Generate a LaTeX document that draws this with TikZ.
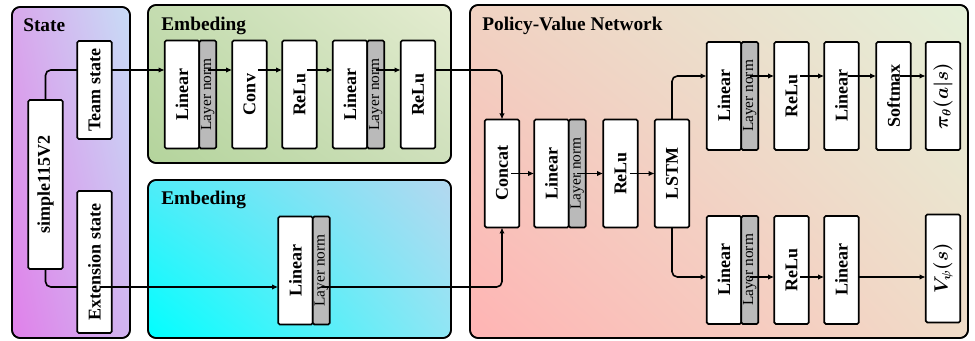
\documentclass[tikz,border=0pt]{standalone}
\usepackage{amsmath, amssymb}
\usepackage{graphicx}
\usepackage{fontspec}
\setmainfont{Liberation Serif}
\usepackage{tikz}
\usetikzlibrary{arrows.meta, positioning, calc, shadings}

\definecolor{stUL}{HTML}{D8A8EC}
\definecolor{stUR}{HTML}{C8DCF6}
\definecolor{stLL}{HTML}{E080EA}
\definecolor{stLR}{HTML}{D0B4F0}
\definecolor{emUL}{HTML}{C4DCB0}
\definecolor{emUR}{HTML}{E4ECD0}
\definecolor{emLL}{HTML}{B4D49C}
\definecolor{emLR}{HTML}{CFE0BC}
\definecolor{ebUL}{HTML}{50ECF8}
\definecolor{ebUR}{HTML}{B4D8F0}
\definecolor{ebLL}{HTML}{00FFFF}
\definecolor{ebLR}{HTML}{90E6F4}
\definecolor{pvUL}{HTML}{F0D2C2}
\definecolor{pvUR}{HTML}{E4F0D8}
\definecolor{pvLL}{HTML}{FFB4B4}
\definecolor{pvLR}{HTML}{F0DCC8}

\newcommand{\rot}[1]{\rotatebox{90}{#1}}

\tikzset{
  panel/.style={draw=black, line width=1.2pt, rounded corners=6pt},
  ptitle/.style={anchor=base west, inner sep=0pt, font=\bfseries\fontsize{14.5}{16}\selectfont},
  blk/.style={draw, line width=1.3pt, fill=white, rounded corners=1.2pt, minimum width=26pt,
    minimum height=81pt, inner sep=0pt, outer sep=0pt, font=\bfseries\fontsize{13.5}{15}\selectfont},
  lnorm/.style={blk, fill=black!27, minimum width=12.75pt, font=\fontsize{11.5}{13}\selectfont},
  line/.style={line width=1.2pt},
  arr/.style={line width=1.2pt, -{Latex[length=4.5pt,width=4pt]}}
}

\begin{document}
\begin{tikzpicture}[x=0.75pt, y=-0.75pt]
\useasboundingbox (0,0) rectangle (975,341);

% panels
\shade[panel, upper left=stUL, upper right=stUR, lower left=stLL, lower right=stLR] (12,7) rectangle (130,338);
\draw[panel] (12,7) rectangle (130,338);
\shade[panel, upper left=emUL, upper right=emUR, lower left=emLL, lower right=emLR] (148,5) rectangle (451,163);
\draw[panel] (148,5) rectangle (451,163);
\shade[panel, upper left=ebUL, upper right=ebUR, lower left=ebLL, lower right=ebLR] (148,180) rectangle (451,338);
\draw[panel] (148,180) rectangle (451,338);
\shade[panel, upper left=pvUL, upper right=pvUR, lower left=pvLL, lower right=pvLR] (470,5) rectangle (968,338);
\draw[panel] (470,5) rectangle (968,338);

\node[ptitle] (tstate) at (23,32) {State};
\node[ptitle] (tembA) at (161,31) {Embeding};
\node[ptitle] (tembB) at (161,205) {Embeding};
\node[ptitle] (tpv) at (482,31) {Policy-Value Network};

% arrow rows
\coordinate (rowT) at (0,70);
\coordinate (rowB) at (0,287);
\coordinate (rowU) at (0,76);
\coordinate (rowL) at (0,277);

% state
\node[blk, minimum height=126.75pt] (simp) at (45.5,184.5) {\rot{simple115V2}};
\node[blk, minimum height=73.5pt] (team) at (94.5,90) {\rot{Team state}};
\node[blk, minimum height=106.5pt] (ext) at (94.5,262) {\rot{Extension state}};

% embeding (top)
\node[blk] (lin1) at (182,94.5) {\rot{Linear}};
\node[lnorm, right=0pt of lin1] (ln1) {\rot{Layer norm}};
\node[blk] (conv) at (249.5,94.5) {\rot{Conv}};
\node[blk] (relu1) at (299.5,94.5) {\rot{ReLu}};
\node[blk] (lin2) at (350,94.5) {\rot{Linear}};
\node[lnorm, right=0pt of lin2] (ln2) {\rot{Layer norm}};
\node[blk] (relu2) at (418,94.5) {\rot{ReLu}};

% embeding (bottom)
\node[blk] (lin3) at (295.5,270.5) {\rot{Linear}};
\node[lnorm, right=0pt of lin3] (ln3) {\rot{Layer norm}};

% policy-value network
\node[blk] (concat) at (502,173.5) {\rot{Concat}};
\node[blk] (lin4) at (551.5,173.5) {\rot{Linear}};
\node[lnorm, right=0pt of lin4] (ln4) {\rot{Layer norm}};
\node[blk] (relu3) at (620.5,173.5) {\rot{ReLu}};
\node[blk] (lstm) at (672,173.5) {\rot{LSTM}};

\node[blk] (linU) at (724,96) {\rot{Linear}};
\node[lnorm, right=0pt of linU] (lnU) {\rot{Layer norm}};
\node[blk] (relu4) at (791.5,96) {\rot{ReLu}};
\node[blk] (linU2) at (841.5,96) {\rot{Linear}};
\node[blk] (soft) at (893.5,96) {\rot{Softmax}};
\node[blk] (pi) at (943,96) {\rot{$\boldsymbol{\pi_\theta(a|s)}$}};

\node[blk] (linL) at (724,270) {\rot{Linear}};
\node[lnorm, right=0pt of linL] (lnL) {\rot{Layer norm}};
\node[blk] (relu5) at (791.5,270) {\rot{ReLu}};
\node[blk] (linL2) at (841.5,270) {\rot{Linear}};
\node[blk] (val) at (943,268.5) {\rot{$\boldsymbol{V_\psi(s)}$}};

% connectors
\draw[line, rounded corners=4pt] (simp.north) |- (team.west |- rowT);
\draw[line, rounded corners=4pt] (simp.south) |- (ext.west |- rowB);
\draw[arr] (team.east |- rowT) -- (lin1.west |- rowT);
\draw[arr] ($(ext.center |- rowB)+(5,0)$) -- (lin3.west |- rowB);

\draw[arr] (ln1.center |- rowT) -- (conv.west |- rowT);
\draw[arr] ($(conv.east |- rowT)+(-9,0)$) -- (relu1.west |- rowT);
\draw[arr] ($(relu1.east |- rowT)+(-10,0)$) -- (lin2.west |- rowT);
\draw[arr] (ln2.center |- rowT) -- (relu2.west |- rowT);
\draw[arr, rounded corners=4pt] (relu2.east |- rowT) -| (concat.north);
\draw[arr, rounded corners=4pt] (ln3.center |- rowB) -| (concat.south);

\draw[arr] ($(concat.east)+(-8,0)$) -- (lin4.west);
\draw[arr] (ln4.center) -- (relu3.west);
\draw[arr] ($(relu3.east)+(-8,0)$) -- (lstm.west);
\draw[arr, rounded corners=4pt] (lstm.north) |- (linU.west |- rowU);
\draw[arr, rounded corners=4pt] (lstm.south) |- (linL.west |- rowL);

\draw[arr] (lnU.center |- rowU) -- (relu4.west |- rowU);
\draw[arr] ($(relu4.east |- rowU)+(-9,0)$) -- (linU2.west |- rowU);
\draw[arr] ($(linU2.east |- rowU)+(-11,0)$) -- (soft.west |- rowU);
\draw[arr] ($(soft.east |- rowU)+(-11,0)$) -- (pi.west |- rowU);

\draw[arr] (lnL.center |- rowL) -- (relu5.west |- rowL);
\draw[arr] ($(relu5.east |- rowL)+(-9,0)$) -- (linL2.west |- rowL);
\draw[arr] (linL2.east |- rowL) -- (val.west |- rowL);

\end{tikzpicture}
\end{document}
